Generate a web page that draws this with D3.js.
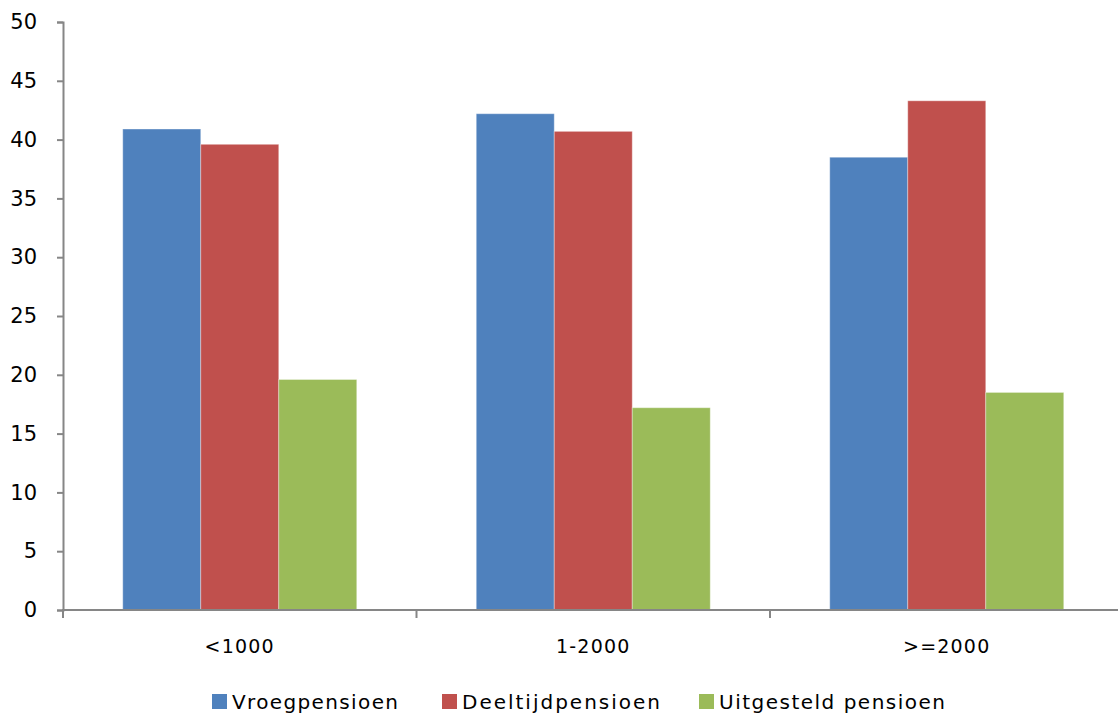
<!DOCTYPE html>
<html>
<head>
<meta charset="utf-8">
<script src="https://cdn.jsdelivr.net/npm/d3@7/dist/d3.min.js"></script>
<style>
  html, body { margin: 0; padding: 0; background: #fff; overflow: hidden; }
  svg { display: block; }
  text { font-family: "DejaVu Sans", sans-serif; fill: #000; }
</style>
</head>
<body>
<svg id="chart" width="1118" height="718"></svg>
<script>
// Income groups and the share choosing each pension option
const categories = ["<1000", "1-2000", ">=2000"];
const seriesNames = ["Vroegpensioen", "Deeltijdpensioen", "Uitgesteld pensioen"];
const vroegpensioen = [40.9, 42.2, 38.5];
const deeltijdpensioen = [39.6, 40.7, 43.3];
const uitgesteldPensioen = [19.6, 17.2, 18.5];
const yTicks = [0, 5, 10, 15, 20, 25, 30, 35, 40, 45, 50];
const colors = ["#4F81BD", "#C0504D", "#9BBB59"];

const seriesValues = [vroegpensioen, deeltijdpensioen, uitgesteldPensioen];

const svg = d3.select("#chart");
const axisColor = "#868686";

const x0 = d3.scaleBand().domain(categories).range([63, 1123.5]).paddingInner(0).paddingOuter(0);
const x1 = d3.scaleBand().domain(seriesNames).range([0, x0.bandwidth()]).paddingInner(0).paddingOuter(0.766);
const y = d3.scaleLinear().domain([0, 50]).range([610, 22]);

// bars
const groups = svg.append("g").selectAll("g")
  .data(categories)
  .join("g")
  .attr("transform", d => `translate(${x0(d)},0)`);

groups.selectAll("rect")
  .data((c, ci) => seriesNames.map((s, si) => ({ s, si, v: seriesValues[si][ci] })))
  .join("rect")
  .attr("x", d => x1(d.s))
  .attr("width", x1.bandwidth())
  .attr("y", d => y(d.v))
  .attr("height", d => y(0) - y(d.v))
  .attr("fill", d => colors[d.si])
  .attr("stroke", "rgba(255,255,255,0.35)")
  .attr("stroke-width", 1);

// y axis
const yAxis = d3.axisLeft(y).tickValues(yTicks).tickSize(6).tickPadding(20);
const gy = svg.append("g").attr("transform", "translate(63,0)").call(yAxis);
gy.select(".domain").attr("stroke", axisColor).attr("stroke-width", 2);
gy.selectAll(".tick line").attr("stroke", axisColor).attr("stroke-width", 2);
gy.selectAll(".tick text").attr("font-size", 21).attr("font-family", "DejaVu Sans, sans-serif").attr("fill", "#000");

// x axis with tick marks between groups
const xAxis = d3.axisBottom(x0).tickSize(0).tickPadding(0);
const gx = svg.append("g").attr("transform", "translate(0,610)").call(xAxis);
gx.select(".domain").remove();
gx.append("line")
  .attr("x1", 62).attr("x2", 1118)
  .attr("y1", 0).attr("y2", 0)
  .attr("stroke", axisColor).attr("stroke-width", 2);
gx.selectAll(".tick text")
  .attr("font-size", 19)
  .attr("font-family", "DejaVu Sans, sans-serif")
  .attr("fill", "#000")
  .attr("dy", 0)
  .attr("y", 43)
  .attr("letter-spacing", 1.2);

svg.append("g").selectAll("line")
  .data(categories)
  .join("line")
  .attr("x1", d => x0(d))
  .attr("x2", d => x0(d))
  .attr("y1", 610)
  .attr("y2", 618)
  .attr("stroke", axisColor)
  .attr("stroke-width", 2);

// legend
const legendItems = [
  { name: seriesNames[0], box: 212, textX: 232, width: 166 },
  { name: seriesNames[1], box: 442, textX: 462, width: 198 },
  { name: seriesNames[2], box: 699, textX: 719, width: 226 }
];
const lg = svg.append("g");
legendItems.forEach((it, i) => {
  lg.append("rect")
    .attr("x", it.box).attr("y", 694)
    .attr("width", 15).attr("height", 15)
    .attr("fill", colors[i]);
  lg.append("text")
    .attr("x", it.textX).attr("y", 709)
    .attr("font-size", 20)
    .attr("font-family", "DejaVu Sans Condensed, DejaVu Sans, sans-serif")
    .attr("textLength", it.width)
    .attr("lengthAdjust", "spacing")
    .text(it.name);
});
</script>
</body>
</html>
